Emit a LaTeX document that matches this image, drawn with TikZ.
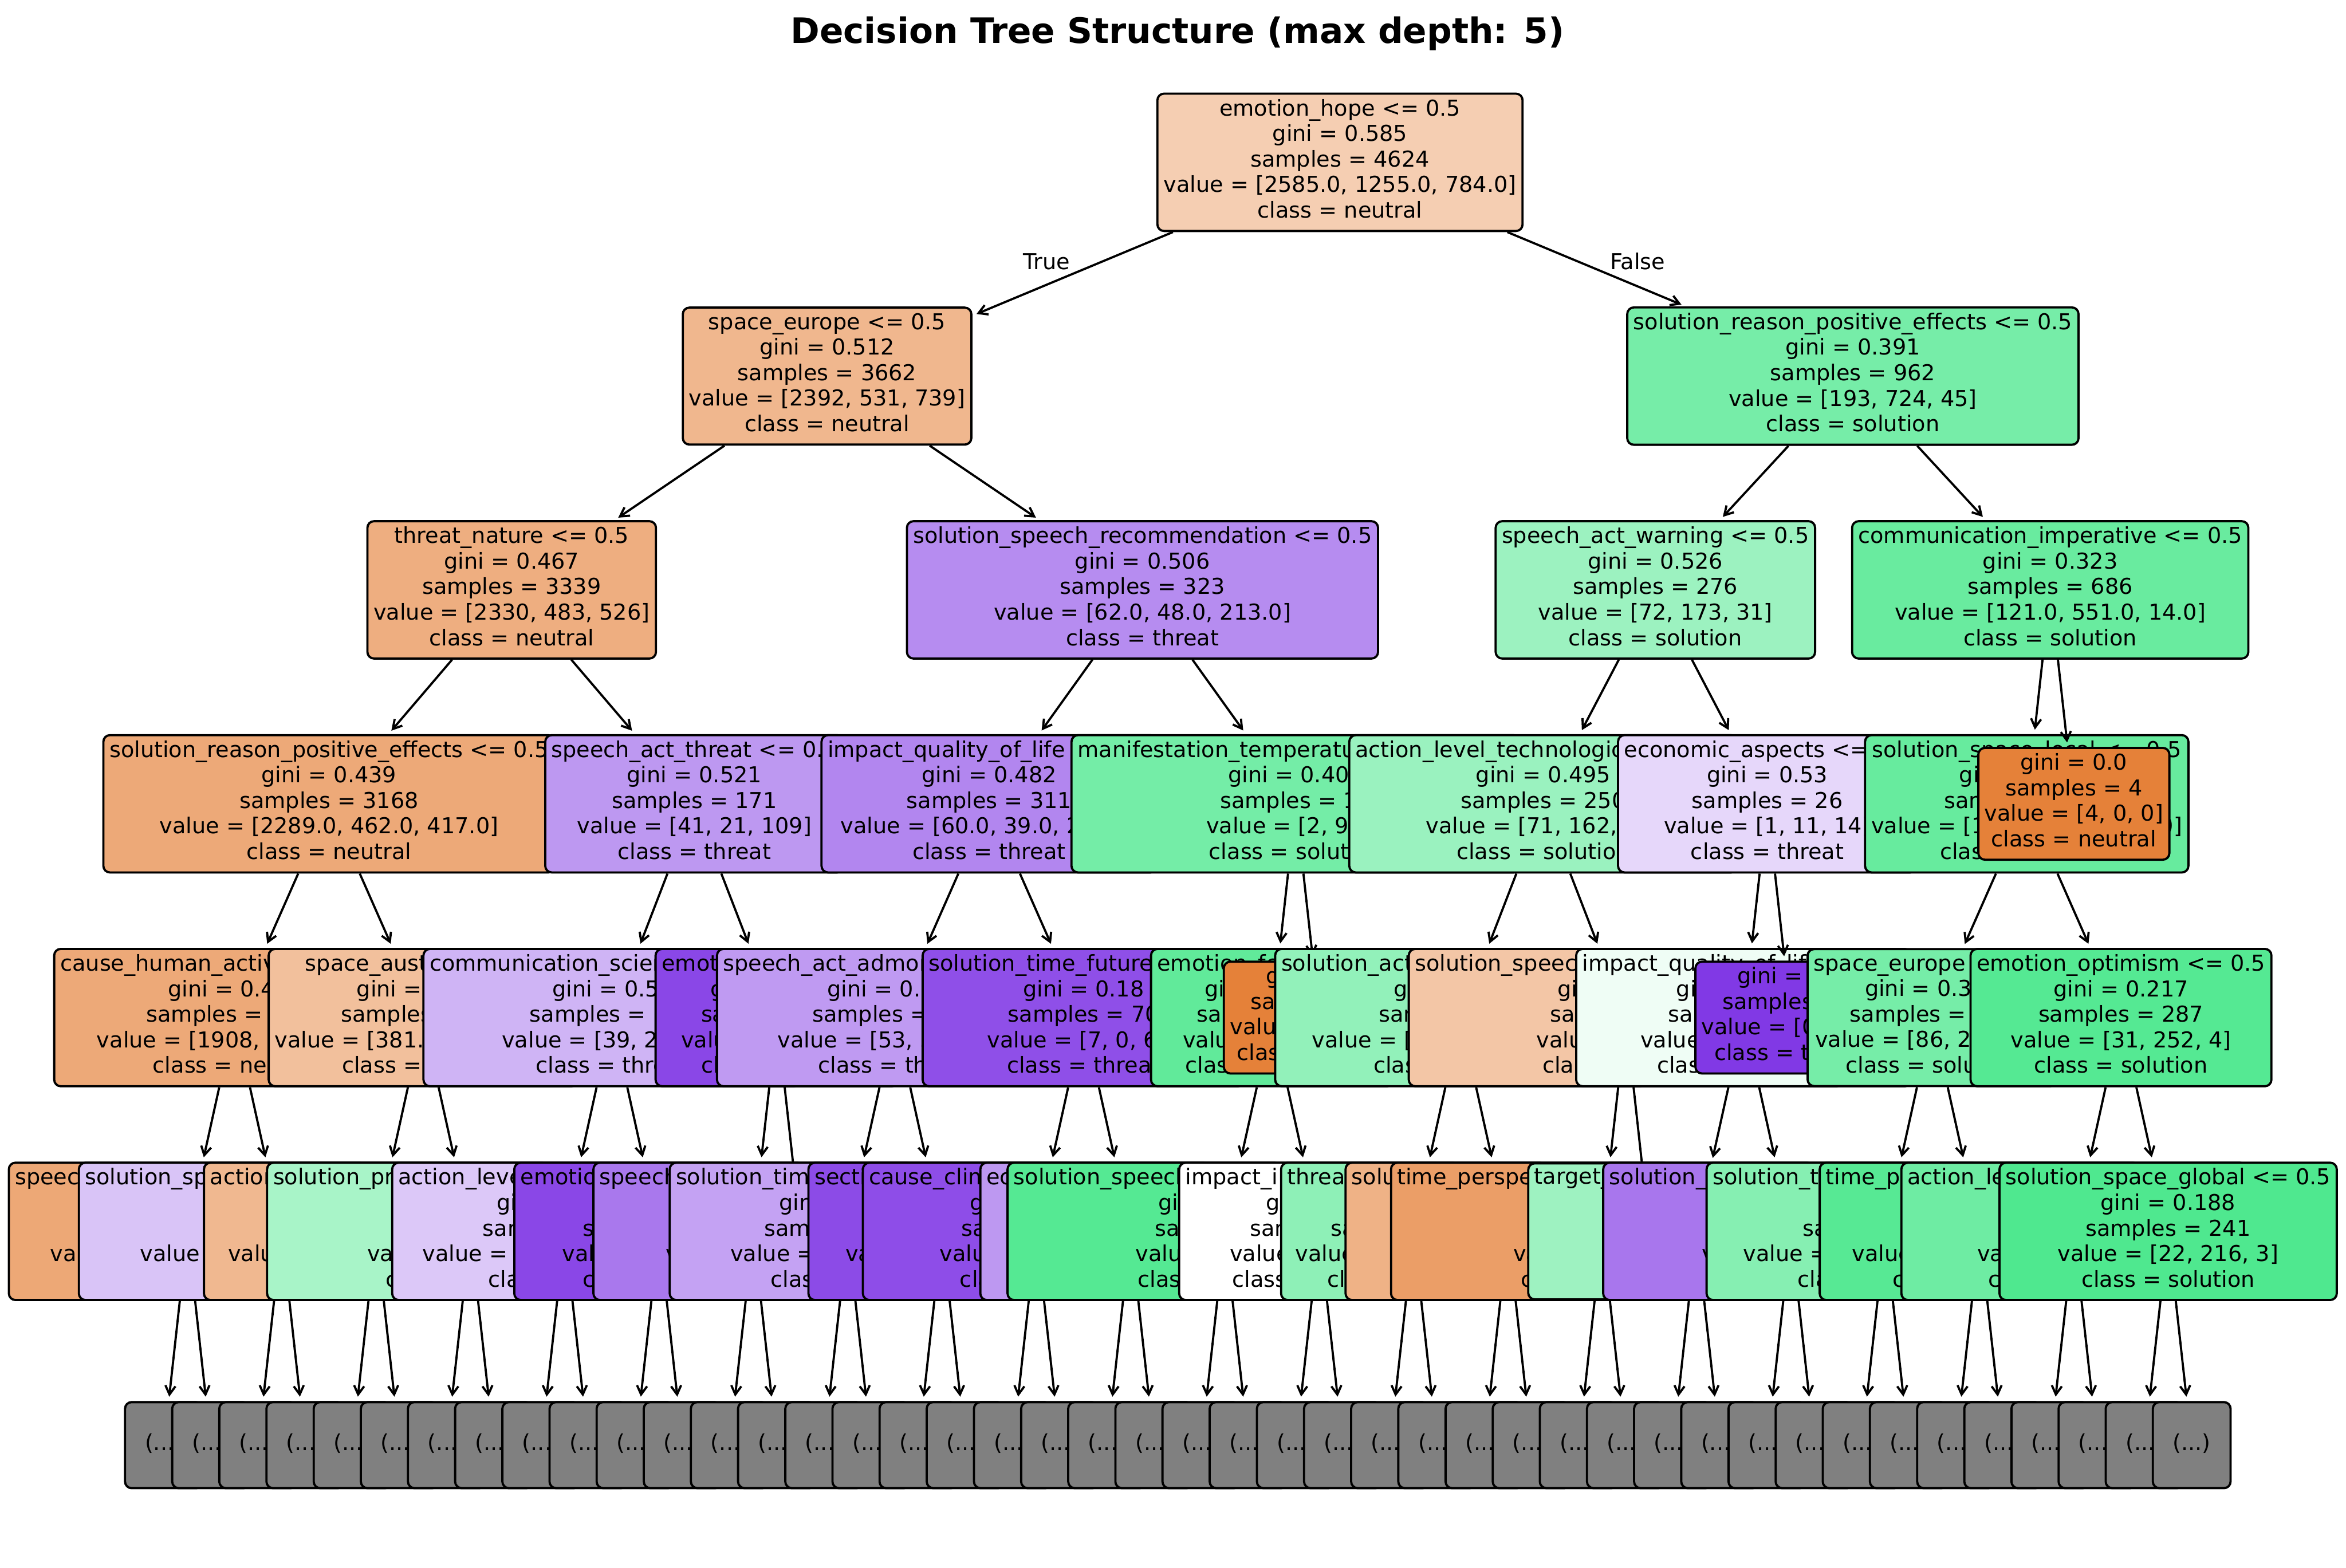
\documentclass[tikz,border=0pt]{standalone}
\usepackage{fontspec}
\setmainfont{DejaVu Sans}
\usetikzlibrary{arrows.meta,calc}

\definecolor{neu}{RGB}{229,129,57}
\definecolor{sol}{RGB}{57,229,129}
\definecolor{thr}{RGB}{129,57,229}
\definecolor{dotsgrey}{RGB}{128,128,128}
% one unit of the picture grid, for the widths of clipped text lines
\newlength{\pxu}\setlength{\pxu}{0.68354pt}
\newcommand{\seg}[2]{\makebox[#1\pxu][l]{#2}}

\begin{document}
\begin{tikzpicture}[
  x=0.024024cm, y=-0.024024cm,
  tnode/.style={draw, line width=1pt, rounded corners=3pt, align=center,
                inner xsep=2.8pt, inner ysep=2.5pt,
                font=\fontsize{10}{11.66}\selectfont,
                execute at begin node=\strut, execute at end node=\strut},
  cut/.style={tnode, fill=dotsgrey, minimum width=35.5pt, minimum height=39.3pt},
  link/.style={-{Straight Barb[length=4pt,width=4.6pt]}, line width=1pt,
               shorten >=2pt}
]
  \useasboundingbox (0,0) rectangle (1568,1047.8);

  \node[font=\fontsize{16}{19.2}\selectfont\bfseries, anchor=base] (title)
        at (787,28.8) {Decision Tree Structure (max depth: 5)};

  % root
  \node[tnode, fill=neu!39] (n) at (895.6,108.5)
        {emotion\_hope <= 0.5\\gini = 0.585\\samples = 4624\\value = [2585.0, 1255.0, 784.0]\\class = neutral};

  % left half
  \node[tnode, fill=neu!57] (nl) at (552.8,251.4)
        {space\_europe <= 0.5\\gini = 0.512\\samples = 3662\\value = [2392, 531, 739]\\class = neutral};
  \draw[link] (n) -- (nl);
  \node[tnode, fill=neu!64] (nll) at (342,394.3)
        {threat\_nature <= 0.5\\gini = 0.467\\samples = 3339\\value = [2330, 483, 526]\\class = neutral};
  \draw[link] (nl) -- (nll);
  \node[tnode, fill=neu!68] (nlll) at (219.9,537.3)
        {solution\_reason\_positive\_effects <= 0.5\\gini = 0.439\\samples = 3168\\value = [2289.0, 462.0, 417.0]\\class = neutral};
  \draw[link] (nll) -- (nlll);
  \node[tnode, fill=neu!68] (nllll) at (156.8,680.2)
        {\seg{232.9}{cause\_human\_activities}\\\seg{89}{gini = 0.4}\\\seg{118}{samples =}\\\seg{184.2}{value = [1908,}\\\seg{109.2}{class = neutral}};
  \draw[link] (nlll) -- (nllll);
  \node[tnode, fill=neu!69] (nlllll) at (125.3,823.1)
        {\seg{230.5}{speech}\\ \\ \\\seg{183.2}{value}\\};
  \draw[link] (nllll) -- (nlllll);
  \node[tnode, fill=thr!30] (nllllr) at (188.3,823.1)
        {\seg{262.9}{solution\_space}\\ \\ \\\seg{189.2}{value =}\\};
  \draw[link] (nllll) -- (nllllr);
  \node[tnode, fill=neu!50] (nlllr) at (282.9,680.2)
        {\seg{157.8}{space\_austria}\\\seg{89}{gini =}\\\seg{110}{samples =}\\\seg{198.4}{value = [381.0,}\\\seg{108.6}{class =}};
  \draw[link] (nlll) -- (nlllr);
  \node[tnode, fill=neu!56] (nlllrl) at (251.4,823.1)
        {\seg{221.9}{action}\\ \\ \\\seg{198}{value}\\};
  \draw[link] (nlllr) -- (nlllrl);
  \node[tnode, fill=sol!44] (nlllrr) at (314.4,823.1)
        {\seg{263.5}{solution\_pro}\\ \\ \\\seg{137.8}{value}\\\seg{112.8}{class}};
  \draw[link] (nlllr) -- (nlllrr);
  \node[tnode, fill=thr!52] (nllr) at (464.1,537.3)
        {speech\_act\_threat <= 0.5\\gini = 0.521\\samples = 171\\value = [41, 21, 109]\\class = threat};
  \draw[link] (nll) -- (nllr);
  \node[tnode, fill=thr!38] (nllrl) at (409,680.2)
        {\seg{243.7}{communication\_scientific}\\\seg{79.6}{gini = 0.5}\\\seg{110}{samples =}\\\seg{147}{value = [39, 2}\\\seg{101.8}{class = threat}};
  \draw[link] (nllr) -- (nllrl);
  \node[tnode, fill=thr!28] (nllrll) at (377.5,823.1)
        {\seg{222.5}{action\_level}\\\seg{90.8}{gini}\\\seg{109.6}{samples}\\\seg{190}{value = [}\\\seg{102.2}{class}};
  \draw[link] (nllrl) -- (nllrll);
  \node[tnode, fill=thr!93] (nllrlr) at (440.5,823.1)
        {\seg{185.3}{emotion}\\ \\\seg{102.2}{samples}\\\seg{129.2}{value}\\\seg{102.2}{class}};
  \draw[link] (nllrl) -- (nllrlr);
  \node[tnode, fill=thr!93] (nllrr) at (519.3,680.2)
        {\seg{154}{emotion}\\\seg{89.2}{gini}\\\seg{101.4}{samples}\\\seg{128.2}{value}\\\seg{101.4}{class}};
  \draw[link] (nllr) -- (nllrr);
  \node[tnode, fill=thr!68] (nllrrl) at (503.5,823.1)
        {\seg{205.5}{speech}\\ \\ \\\seg{117}{value}\\};
  \draw[link] (nllrr) -- (nllrrl);
  \coordinate (nllrrr) at (535.1,823.1);
  \draw[link] (nllrr) -- (nllrrr);

  \node[tnode, fill=thr!58] (nlr) at (763.6,394.3)
        {solution\_speech\_recommendation <= 0.5\\gini = 0.506\\samples = 323\\value = [62.0, 48.0, 213.0]\\class = threat};
  \draw[link] (nl) -- (nlr);
  \node[tnode, fill=thr!61] (nlrl) at (661.1,537.3)
        {impact\_quality\_of\_life <= 0.5\\gini = 0.482\\samples = 311\\value = [60.0, 39.0, 212.0]\\class = threat};
  \draw[link] (nlr) -- (nlrl);
  \node[tnode, fill=thr!51] (nlrll) at (598.1,680.2)
        {speech\_act\_admonition <= 0.5\\gini = 0.543\\samples = 241\\value = [53, 39, 149]\\class = threat};
  \draw[link] (nlrl) -- (nlrll);
  \node[tnode, fill=thr!47] (nlrlll) at (566.6,823.1)
        {\seg{229.7}{solution\_time}\\\seg{91.4}{gini}\\\seg{111.6}{samples}\\\seg{156.8}{value = [}\\\seg{102.8}{class}};
  \draw[link] (nlrll) -- (nlrlll);
  \node[tnode, fill=thr!91] (nlrllr) at (629.6,823.1)
        {\seg{170.3}{section}\\ \\ \\\seg{129}{value}\\};
  \draw[link] (nlrll) -- (nlrllr);
  \node[tnode, fill=thr!89] (nlrlr) at (724.2,680.2)
        {solution\_time\_future <= 0.5\\gini = 0.18\\samples = 70\\value = [7, 0, 63]\\class = threat};
  \draw[link] (nlrl) -- (nlrlr);
  \node[tnode, fill=thr!90] (nlrlrl) at (692.7,823.1)
        {\seg{223.7}{cause\_climate}\\\seg{88.8}{gini}\\\seg{100.2}{samples}\\\seg{129.2}{value}\\\seg{102.2}{class}};
  \draw[link] (nlrlr) -- (nlrlrl);
  \node[tnode, fill=thr!52] (nlrlrr) at (755.7,823.1)
        {\seg{192.7}{economic}\\ \\ \\ \\};
  \draw[link] (nlrlr) -- (nlrlrr);
  \node[tnode, fill=sol!70] (nlrr) at (866,537.3)
        {manifestation\_temperature\_rise <= 0.5\\gini = 0.403\\samples = 12\\value = [2, 9, 1]\\class = solution};
  \draw[link] (nlr) -- (nlrr);
  \node[tnode, fill=sol!80] (nlrrl) at (850.3,680.2)
        {emotion\_fear <= 0.5\\gini = 0.314\\samples = 11\\value = [1, 9, 1]\\class = solution};
  \draw[link] (nlrr) -- (nlrrl);
  \node[tnode, fill=sol!86] (nlrrll) at (818.7,823.1)
        {\seg{282.3}{solution\_speech}\\\seg{89.2}{gini}\\\seg{93.2}{samples}\\\seg{119.4}{value}\\\seg{116.2}{class}};
  \draw[link] (nlrrl) -- (nlrrll);
  \node[tnode, fill=white] (nlrrlr) at (881.8,823.1)
        {\seg{179.1}{impact\_i}\\\seg{71}{gini}\\\seg{92.6}{samples}\\\seg{119.6}{value}\\\seg{116.2}{class}};
  \draw[link] (nlrrl) -- (nlrrlr);
  \node[tnode, fill=neu] (nlrrr) at (881.8,680.2)
        {gini = 0.0\\samples = 1\\value = [1, 0, 0]\\class = neutral};
  \draw[link] (nlrr) -- (nlrrr);

  % right half
  \node[tnode, fill=sol!69] (nr) at (1238.4,251.4)
        {solution\_reason\_positive\_effects <= 0.5\\gini = 0.391\\samples = 962\\value = [193, 724, 45]\\class = solution};
  \draw[link] (n) -- (nr);
  \node[tnode, fill=sol!50] (nrl) at (1106.4,394.3)
        {speech\_act\_warning <= 0.5\\gini = 0.526\\samples = 276\\value = [72, 173, 31]\\class = solution};
  \draw[link] (nr) -- (nrl);
  \node[tnode, fill=sol!51] (nrll) at (1031.5,537.3)
        {\seg{251.1}{action\_level\_technological <= 0.5}\\gini = 0.495\\samples = 250\\value = [71, 162, 17]\\class = solution};
  \draw[link] (nrl) -- (nrll);
  \node[tnode, fill=sol!55] (nrlll) at (976.3,680.2)
        {\seg{239.8}{solution\_action}\\\seg{89.4}{gini}\\\seg{109.6}{samples}\\\seg{198.8}{value = [}\\\seg{116.4}{class}};
  \draw[link] (nrll) -- (nrlll);
  \node[tnode, fill=sol!57] (nrllll) at (944.8,823.1)
        {\seg{168.9}{threat}\\ \\\seg{110.8}{samples}\\\seg{158}{value}\\\seg{115.6}{class}};
  \draw[link] (nrlll) -- (nrllll);
  \node[tnode, fill=neu!61] (nrlllr) at (1007.9,823.1)
        {\seg{208.9}{solution}\\ \\ \\ \\};
  \draw[link] (nrlll) -- (nrlllr);
  \node[tnode, fill=neu!45] (nrllr) at (1086.7,680.2)
        {\seg{282}{solution\_speech}\\\seg{91.2}{gini}\\\seg{101.2}{samples}\\\seg{119.4}{value}\\\seg{111.4}{class}};
  \draw[link] (nrll) -- (nrllr);
  \node[tnode, fill=neu!77] (nrllrl) at (1070.9,823.1)
        {\seg{274.1}{time\_perspective}\\ \\ \\\seg{118.8}{value}\\\seg{108.8}{class}};
  \draw[link] (nrllr) -- (nrllrl);
  \coordinate (nrllrr) at (1102.4,823.1);
  \draw[link] (nrllr) -- (nrllrr);
  \node[tnode, fill=thr!20] (nrlr) at (1181.2,537.3)
        {economic\_aspects <= 0.5\\gini = 0.53\\samples = 26\\value = [1, 11, 14]\\class = threat};
  \draw[link] (nrl) -- (nrlr);
  \node[tnode, fill=sol!8] (nrlrl) at (1165.5,680.2)
        {impact\_quality\_of\_life <= 0.5\\gini = 0.541\\samples = 22\\value = [1, 11, 10]\\class = solution};
  \draw[link] (nrlr) -- (nrlrl);
  \node[tnode, fill=sol!49] (nrlrll) at (1133.9,823.1)
        {\seg{216.7}{target\_}\\ \\ \\ \\};
  \draw[link] (nrlrl) -- (nrlrll);
  \node[tnode, fill=thr!69] (nrlrlr) at (1197,823.1)
        {\seg{242.7}{solution\_}\\ \\ \\\seg{119}{value}\\};
  \draw[link] (nrlrl) -- (nrlrlr);
  \node[tnode, fill=thr] (nrlrr) at (1197,680.2)
        {gini = 0.0\\samples = 4\\value = [0, 0, 4]\\class = threat};
  \draw[link] (nrlr) -- (nrlrr);
  \node[tnode, fill=sol!76] (nrr) at (1370.3,394.3)
        {communication\_imperative <= 0.5\\gini = 0.323\\samples = 686\\value = [121.0, 551.0, 14.0]\\class = solution};
  \draw[link] (nr) -- (nrr);
  \node[tnode, fill=sol!77] (nrrl) at (1354.6,537.3)
        {solution\_space\_local <= 0.5\\gini = 0.317\\samples = 682\\value = [117.0, 551.0, 14.0]\\class = solution};
  \draw[link] (nrr) -- (nrrl);
  \node[tnode, fill=sol!69] (nrrll) at (1291.5,680.2)
        {space\_europe <= 0.5\\gini = 0.379\\samples = 395\\value = [86, 299, 10]\\class = solution};
  \draw[link] (nrrl) -- (nrrll);
  \node[tnode, fill=sol!61] (nrrlll) at (1260,823.1)
        {\seg{230.5}{solution\_t}\\ \\\seg{110.2}{samples}\\\seg{189.8}{value =}\\\seg{117}{class}};
  \draw[link] (nrrll) -- (nrrlll);
  \node[tnode, fill=sol!85] (nrrllr) at (1323.1,823.1)
        {\seg{205.5}{time\_p}\\ \\ \\\seg{170.4}{value}\\\seg{116.4}{class}};
  \draw[link] (nrrll) -- (nrrllr);
  \node[tnode, fill=sol!86] (nrrlr) at (1417.6,680.2)
        {emotion\_optimism <= 0.5\\gini = 0.217\\samples = 287\\value = [31, 252, 4]\\class = solution};
  \draw[link] (nrrl) -- (nrrlr);
  \node[tnode, fill=sol!73] (nrrlrl) at (1386.1,823.1)
        {\seg{222.3}{action\_le}\\ \\ \\\seg{129.2}{value}\\\seg{114.2}{class}};
  \draw[link] (nrrlr) -- (nrrlrl);
  \node[tnode, fill=sol!89] (nrrlrr) at (1449.1,823.1)
        {solution\_space\_global <= 0.5\\gini = 0.188\\samples = 241\\value = [22, 216, 3]\\class = solution};
  \draw[link] (nrrlr) -- (nrrlrr);
  \node[tnode, fill=neu] (nrrr) at (1386.1,537.3)
        {gini = 0.0\\samples = 4\\value = [4, 0, 0]\\class = neutral};
  \draw[link] (nrr) -- (nrrr);

  % truncated subtrees below depth 5
  \foreach \p in {nlllll,nllllr,nlllrl,nlllrr,nllrll,nllrlr,nllrrl,nlrlll,nlrllr,
                  nlrlrl,nlrlrr,nlrrll,nlrrlr,nrllll,nrlllr,nrllrl,nrlrll,nrlrlr,
                  nrrlll,nrrllr,nrrlrl,nrrlrr}{
    \node[cut] (\p0) at ($(\p)+(-15.76,142.9)$) {(...)};
    \draw[link] (\p) -- (\p0);
    \node[cut] (\p1) at ($(\p)+(15.76,142.9)$) {(...)};
    \draw[link] (\p) -- (\p1);
  }

  \node[font=\fontsize{10}{12}\selectfont, anchor=base] (ltrue)  at (699.5,180.3) {True};
  \node[font=\fontsize{10}{12}\selectfont, anchor=base] (lfalse) at (1094.5,180.3) {False};
\end{tikzpicture}
\end{document}
